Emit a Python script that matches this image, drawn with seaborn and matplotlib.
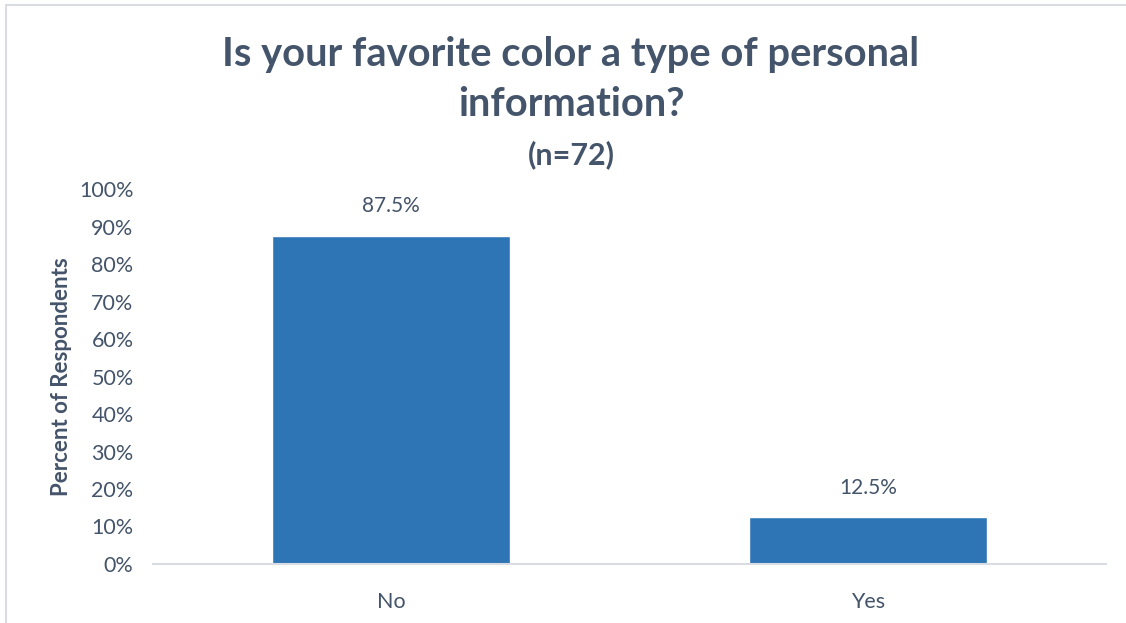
import matplotlib
matplotlib.use("Agg")
import matplotlib.pyplot as plt
import pandas as pd
import seaborn as sns

# Survey responses
answers = ["No", "Yes"]
percent = [87.5, 12.5]
y_ticks = [0, 10, 20, 30, 40, 50, 60, 70, 80, 90, 100]

title_lines = ["Is your favorite color a type of personal", "information?"]
title_n = "(n=72)"
y_title = "Percent of Respondents"

TEXT = "#44546A"
BAR = "#2E75B6"
GRID = "#D9DDE3"

sns.set_theme(style="white")
plt.rcParams["font.family"] = ["Lato", "DejaVu Sans"]

df = pd.DataFrame({"answer": answers, "percent": percent})

fig = plt.figure(figsize=(11.26, 6.23), dpi=100)
ax = fig.add_axes([153 / 1126, 1 - 564 / 623, (1106 - 153) / 1126, (564 - 189) / 623])

sns.barplot(data=df, x="answer", y="percent", color=BAR, width=0.5,
            saturation=1, ax=ax)

ax.set_ylim(0, 100)
ax.set_xlim(-0.5, 1.5)
ax.set_yticks(y_ticks)
ax.set_yticklabels([f"{v}%" for v in y_ticks])
ax.tick_params(axis="y", length=0, pad=14, labelsize=15.5, labelcolor=TEXT)
ax.tick_params(axis="x", length=0, pad=20, labelsize=15.5, labelcolor=TEXT)
ax.set_xlabel("")
ax.set_ylabel(y_title, fontsize=16, fontweight="bold", color=TEXT, labelpad=5)

for side in ["top", "right", "left"]:
    ax.spines[side].set_visible(False)
ax.spines["bottom"].set_color(GRID)
ax.spines["bottom"].set_linewidth(1.5)

for patch, v in zip(ax.patches, percent):
    ax.annotate(f"{v}%", (patch.get_x() + patch.get_width() / 2, v),
                xytext=(0, 14), textcoords="offset points",
                ha="center", va="bottom", fontsize=15, color=TEXT)

for line, base in zip(title_lines, [66, 116]):
    fig.text(571 / 1126, 1 - base / 623, line, ha="center", va="baseline",
             fontsize=28.7, fontweight="bold", color=TEXT)
fig.text(571 / 1126, 1 - 164 / 623, title_n, ha="center", va="baseline",
         fontsize=22, fontweight="bold", color=TEXT)

# Chart frame along the top and left edges
fig.add_artist(plt.Line2D([6 / 1126, 1], [1 - 5 / 623, 1 - 5 / 623],
                          transform=fig.transFigure, color=GRID, lw=1.5))
fig.add_artist(plt.Line2D([6 / 1126, 6 / 1126], [0, 1 - 5 / 623],
                          transform=fig.transFigure, color=GRID, lw=1.5))

fig.savefig("out.png", dpi=100, facecolor="white")
